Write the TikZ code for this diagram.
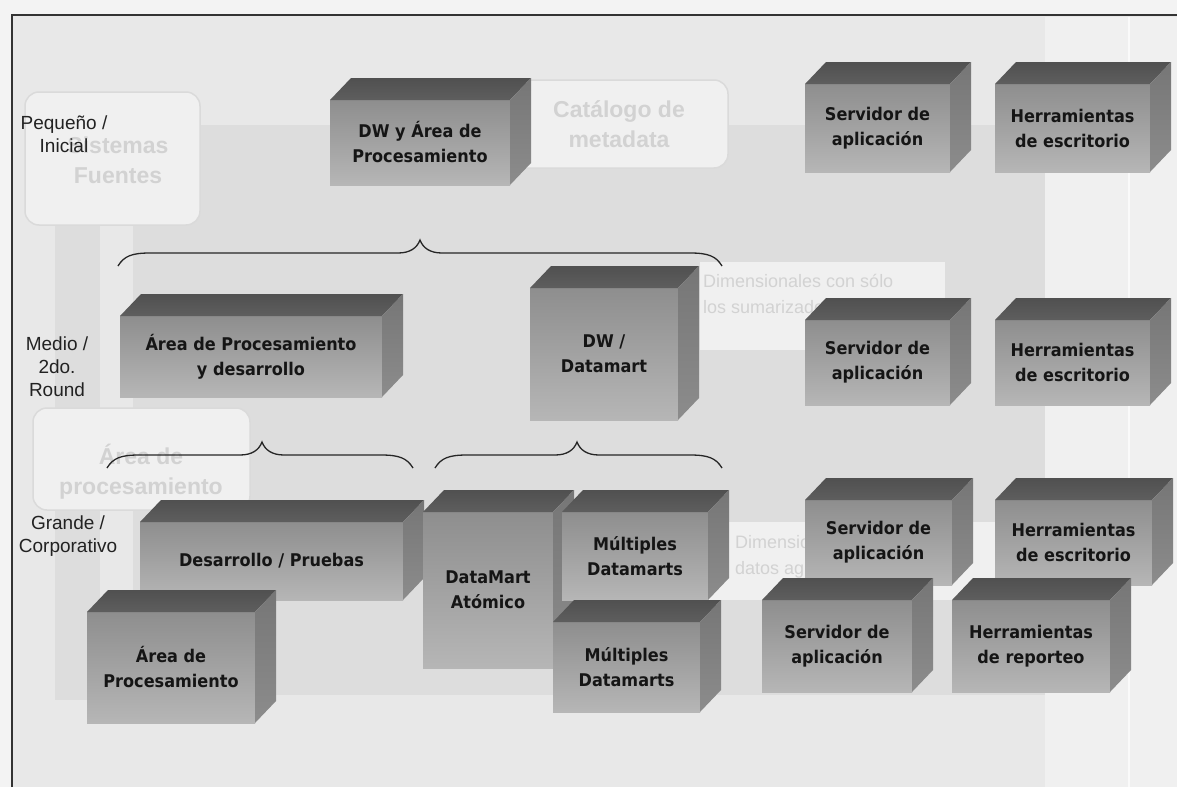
\documentclass[tikz,border=0pt]{standalone}
\usepackage{fontspec}
\setmainfont{Liberation Sans}
\newfontfamily\boxfont{DejaVu Sans}[FakeStretch=0.92]
\usetikzlibrary{calc}

\definecolor{pagebg}{HTML}{E8E8E8}
\definecolor{outerbg}{HTML}{F3F3F3}
\definecolor{ghostdark}{HTML}{DDDDDD}
\definecolor{ghostlight}{HTML}{F0F0F0}
\definecolor{ghostedge}{HTML}{DADADA}
\definecolor{ghosttext}{HTML}{D2D2D2}
\definecolor{faceTop}{HTML}{8E8E8E}
\definecolor{faceBot}{HTML}{B6B6B6}
\definecolor{lidA}{HTML}{505050}
\definecolor{lidB}{HTML}{5E5E5E}
\definecolor{sideA}{HTML}{767676}
\definecolor{sideB}{HTML}{8C8C8C}
\definecolor{inkbox}{HTML}{151515}
\definecolor{inklbl}{HTML}{222222}

\def\cubedx{21}
\def\cubedy{22}

% front face carries the label; lid and side face are added around it
\newcommand\cuboid[6]{%
  \node[cubefront, minimum width=#4pt, minimum height=#5pt] (#1) at (#2,#3) {#6};
  \shade[cubelid] (#1.north west) -- ++(\cubedx,-\cubedy)
     -- ($(#1.north east)+(\cubedx,-\cubedy)$) -- (#1.north east) -- cycle;
  \shade[cubeside] (#1.north east) -- ($(#1.north east)+(\cubedx,-\cubedy)$)
     -- ($(#1.south east)+(\cubedx,-\cubedy)$) -- (#1.south east) -- cycle;
}

\begin{document}
\begin{tikzpicture}[x=1pt,y=-1pt,
  cubefront/.style={anchor=north west, inner sep=0pt, outer sep=0pt,
    top color=faceTop, bottom color=faceBot, text=inkbox, align=center,
    font=\boxfont\bfseries\fontsize{17.5}{25}\selectfont},
  cubelid/.style={top color=lidA, bottom color=lidB},
  cubeside/.style={top color=sideA, bottom color=sideB},
  lbl/.style={align=center, text=inklbl, inner sep=0pt,
    font=\fontsize{19}{23}\selectfont},
  ghostbox/.style={rounded corners=14pt, fill=ghostlight, draw=ghostedge,
    line width=1.5pt},
  ghostlbl/.style={text=ghosttext, align=center, inner sep=0pt,
    font=\bfseries\fontsize{23}{30}\selectfont},
  ghosttxt/.style={text=ghosttext, anchor=west, inner sep=0pt,
    font=\fontsize{18}{26}\selectfont, align=left},
  bracket/.style={draw=black!85, line width=1.3pt},
  frameline/.style={draw=black!80, line width=1.6pt}]

\useasboundingbox (0,0) rectangle (1177,787);

% paper and faded background drawing
\fill[pagebg] (0,0) rectangle (1177,787);
\fill[outerbg] (0,0) rectangle (1177,15);
\fill[outerbg] (0,0) rectangle (12,787);
\fill[ghostdark] (133,125) rectangle (1045,695);
\fill[ghostdark] (55,225) rectangle (100,700);
\fill[black!6] (1045,17) rectangle (1177,787);
\draw[white, line width=2.5pt, opacity=0.7] (1129,17) -- (1129,787);

\draw[ghostbox] (25,92) rectangle (200,225);
\node[ghostlbl] (gsrc) at (118,160) {Sistemas\\Fuentes};
\draw[ghostbox] (510,80) rectangle (728,168);
\node[ghostlbl] (gcat) at (619,124) {Catálogo de\\metadata};
\draw[ghostbox] (33,408) rectangle (250,510);
\node[ghostlbl] (gproc) at (141,472) {Área de\\procesamiento};
\fill[ghostlight] (700,262) rectangle (945,350);
\node[ghosttxt] (gdim1) at (703,294) {Dimensionales con sólo\\los sumarizados};
\fill[ghostlight] (700,522) rectangle (1045,600);
\node[ghosttxt] (gdim2) at (735,557) {Dimensionales con\\datos agregados};

% frame
\draw[frameline] (12,787) -- (12,15) -- (1177,15);

% size labels
\node[lbl] (small) at (64,134) {Pequeño /\\Inicial};
\node[lbl] (medium) at (57,367) {Medio /\\2do.\\Round};
\node[lbl] (large) at (68,536) {Grande /\\Corporativo};

% braces
\coordinate (b1l) at (118,266); \coordinate (b1t) at (420,240); \coordinate (b1r) at (722,266);
\coordinate (b2l) at (107,468); \coordinate (b2t) at (262,442); \coordinate (b2r) at (413,468);
\coordinate (b3l) at (435,468); \coordinate (b3t) at (577,442); \coordinate (b3r) at (722,468);
\foreach \l/\t/\r in {b1l/b1t/b1r, b2l/b2t/b2r, b3l/b3t/b3r} {
  \draw[bracket] (\l) .. controls ($(\l)+(6,-10)$) and ($(\l)+(14,-13)$) .. ($(\l)+(32,-13)$)
     -- ($(\t)+(-22,13)$) .. controls ($(\t)+(-10,13)$) and ($(\t)+(-3,8)$) .. (\t)
     .. controls ($(\t)+(3,8)$) and ($(\t)+(10,13)$) .. ($(\t)+(22,13)$)
     -- ($(\r)+(-32,-13)$) .. controls ($(\r)+(-14,-13)$) and ($(\r)+(-6,-10)$) .. (\r);
}

% first row
\cuboid{dwproc}{330}{100}{180}{85}{DW y Área de\\Procesamiento}
\cuboid{appA}{805}{84}{145}{88}{Servidor de\\aplicación}
\cuboid{deskA}{995}{84}{155}{88}{Herramientas\\de escritorio}

% second row
\cuboid{procdev}{120}{316}{262}{81}{Área de Procesamiento\\y desarrollo}
\cuboid{dwdm}{530}{288}{148}{132}{DW /\\Datamart}
\cuboid{appB}{805}{320}{145}{85}{Servidor de\\aplicación}
\cuboid{deskB}{995}{320}{155}{85}{Herramientas\\de escritorio}

% third row
\cuboid{devtest}{140}{522}{263}{78}{Desarrollo / Pruebas}
\cuboid{proc}{87}{612}{168}{111}{Área de\\Procesamiento}
\cuboid{atomic}{423}{512}{130}{156}{DataMart\\Atómico}
\cuboid{multiA}{562}{512}{146}{88}{Múltiples\\Datamarts}
\cuboid{multiB}{553}{622}{147}{90}{Múltiples\\Datamarts}
\cuboid{appC}{805}{500}{147}{85}{Servidor de\\aplicación}
\cuboid{deskC}{995}{500}{157}{85}{Herramientas\\de escritorio}
\cuboid{appD}{762}{600}{150}{92}{Servidor de\\aplicación}
\cuboid{report}{952}{600}{158}{92}{Herramientas\\de reporteo}

\end{tikzpicture}
\end{document}
